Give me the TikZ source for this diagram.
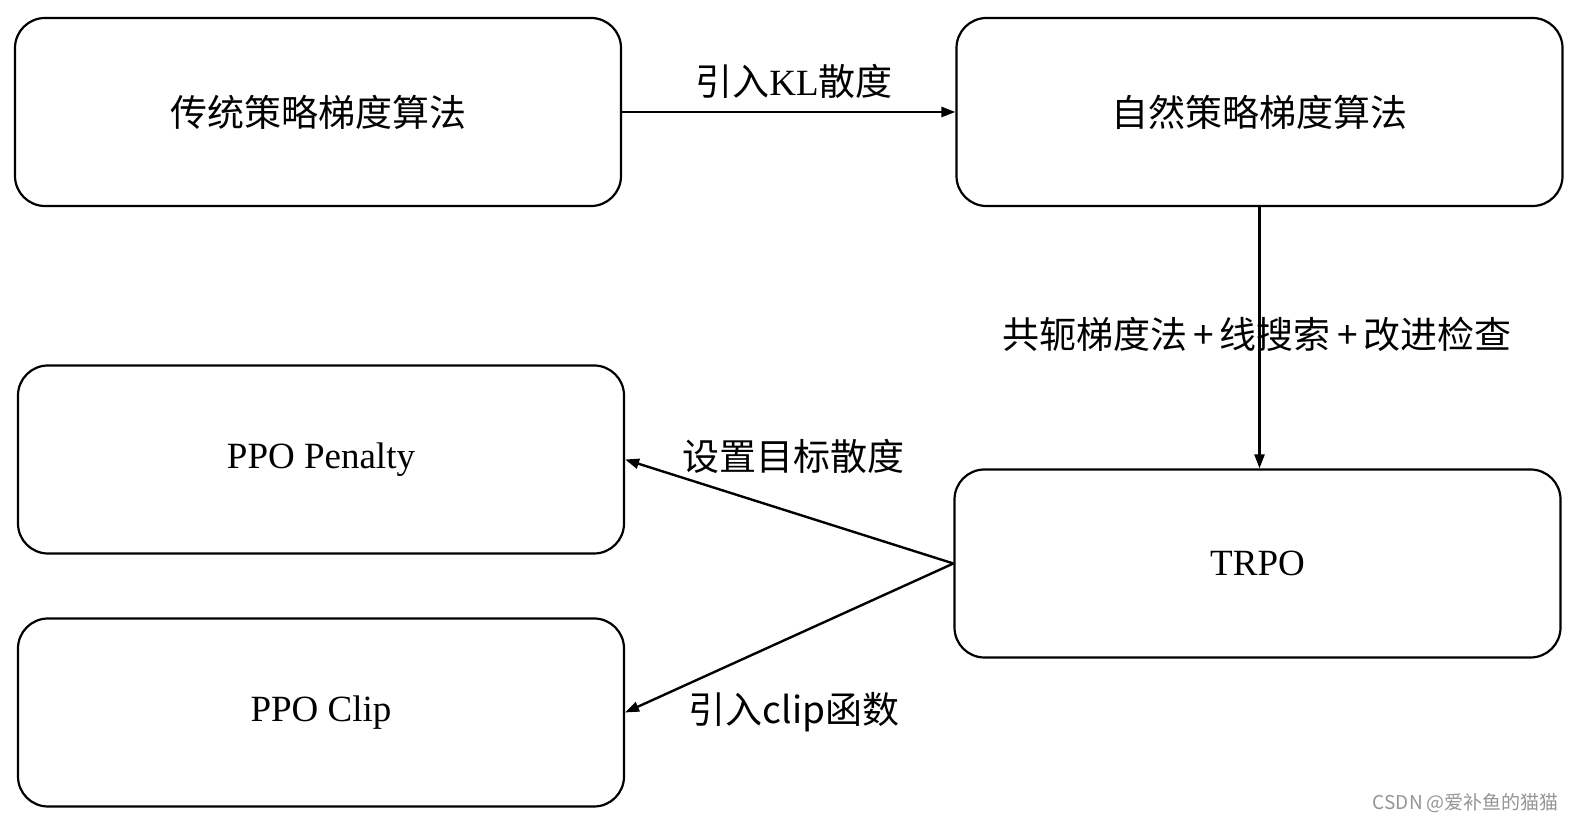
\documentclass[tikz,border=0pt]{standalone}
\usepackage{fontspec}
\setmainfont{Liberation Serif}
\newfontfamily\cjk{Noto Sans CJK SC}
\usetikzlibrary{positioning,arrows.meta}

\begin{document}
\begin{tikzpicture}[
  x=0.5pt, y=-0.5pt, >={Triangle[length=7pt,width=5pt]},
  box/.style={draw, rounded corners=15pt, line width=1.1pt, align=center,
              minimum width=303pt, minimum height=94pt, inner sep=0pt, font=\fontsize{18.5}{22}\selectfont},
  cbox/.style={box, font=\cjk\fontsize{18.5}{22}\selectfont},
  lbl/.style={font=\cjk\fontsize{18.5}{22}\selectfont, inner sep=1pt},
  link/.style={->, line width=1.2pt},
  wmark/.style={font=\fontsize{9.5}{11}\selectfont, text=black!42},
]
\useasboundingbox (0,0) rectangle (1580,822);
% ---- upper row ----
\node[cbox] (trad) at (318,112) {传统策略梯度算法};
\node[cbox] (nat) at (1259.5,112) {自然策略梯度算法};
% ---- right column ----
\node[box] (trpo) at (1257.5,563.5) {TRPO};
% ---- left column ----
\node[box] (pen) at (321,459.5) {PPO Penalty};
\node[box] (clp) at (321,712.5) {PPO Clip};
% ---- connectors ----
\draw[link] (trad.east) -- (nat.west);
\draw[link] (nat.south) -- (nat.south |- trpo.north);
\draw[link] (trpo.west) -- (pen.east);
\draw[link] (trpo.west) -- (clp.east);
% ---- labels ----
\node[lbl] (kl) at (794,81) {引入{\rmfamily KL}散度};
\node[lbl] (cg) at (1257,334) {共轭梯度法\,+\,线搜索\,+\,改进检查};
\node[lbl] (tgt) at (793,456) {设置目标散度};
\node[lbl] (cl) at (794,712) {引入clip函数};
\node[wmark, anchor=east] (wm) at (1566,803) {\cjk CSDN @爱补鱼的猫猫};
\end{tikzpicture}
\end{document}
